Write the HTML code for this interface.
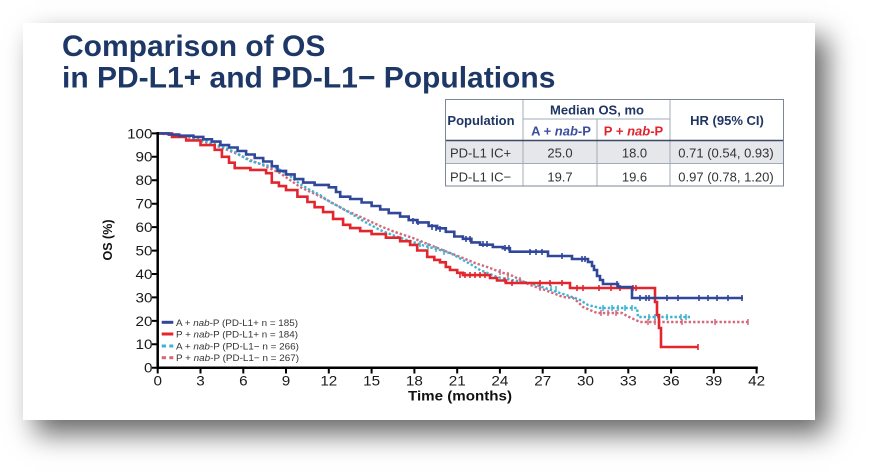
<!DOCTYPE html>
<html>
<head>
<meta charset="utf-8">
<style>
  html,body{margin:0;padding:0;background:#ffffff;}
  body{width:870px;height:475px;position:relative;overflow:hidden;font-family:"Liberation Sans",Arial,sans-serif;}
  .card{position:absolute;left:23px;top:23px;width:792px;height:397px;background:#fff;
        box-shadow:12px 14px 26px rgba(0,0,0,0.6);}
  svg{position:absolute;left:0;top:0;}
</style>
</head>
<body>
<div class="card"></div>
<svg width="870" height="475" viewBox="0 0 870 475" xmlns="http://www.w3.org/2000/svg" font-family="Liberation Sans, Arial, sans-serif">
  <!-- Title -->
  <text x="62" y="56" font-size="30" font-weight="bold" fill="#1d3867">Comparison of OS</text>
  <text x="62" y="87.5" font-size="30" font-weight="bold" fill="#1d3867">in PD-L1+ and PD-L1− Populations</text>

  <!-- Table -->
  <rect x="445" y="141" width="338" height="22" fill="#e6e7eb"/>
  <g stroke="#a3abb8" stroke-width="1" fill="none">
    <line x1="523" y1="99" x2="523" y2="186"/>
    <line x1="670" y1="99" x2="670" y2="186"/>
    <line x1="597" y1="119" x2="597" y2="186"/>
    <line x1="523" y1="119" x2="670" y2="119"/>
    <line x1="445" y1="163.5" x2="783" y2="163.5"/>
  </g>
  <line x1="445" y1="140.5" x2="783" y2="140.5" stroke="#3e4a63" stroke-width="1.6"/>
  <rect x="445.5" y="99.5" width="338" height="86.5" fill="none" stroke="#7c8696" stroke-width="1"/>
  <g font-size="13" font-weight="bold" fill="#1f3563" text-anchor="middle">
    <text x="481" y="125">Population</text>
    <text x="597" y="114.5">Median OS, mo</text>
    <text x="727" y="125">HR (95% CI)</text>
    <text x="561" y="135.5" fill="#3b4f9e">A + <tspan font-style="italic">nab</tspan>-P</text>
    <text x="633.5" y="135.5" fill="#e2232b">P + <tspan font-style="italic">nab</tspan>-P</text>
  </g>
  <g font-size="13" fill="#333" text-anchor="middle">
    <text x="450" y="157.5" text-anchor="start">PD-L1 IC+</text>
    <text x="560" y="157.5">25.0</text>
    <text x="634.5" y="157.5">18.0</text>
    <text x="726" y="157.5">0.71 (0.54, 0.93)</text>
    <text x="450" y="181.5" text-anchor="start">PD-L1 IC−</text>
    <text x="560" y="181.5">19.7</text>
    <text x="634.5" y="181.5">19.6</text>
    <text x="726" y="181.5">0.97 (0.78, 1.20)</text>
  </g>

  <!-- Curves: dotted first -->
  <polyline fill="none" stroke="#d4697c" stroke-width="2.4" stroke-dasharray="2.4 2" points="157.7,133.4 175,135 190,138 205,142 220,147 235,153 250,160 265,166 280,173 300,187 315,194 327,200 345,210 363,218 380,226 395,232 413,238 430,245 445,251 463,258 475,263 490,268 500,272 513,276 530,285 545,290 563,297 573,298 578,302 583,307 597,313 622,313 627,316 640,322 750,322"/>
  <polyline fill="none" stroke="#3db4d2" stroke-width="2.4" stroke-dasharray="2.4 2" points="157.7,133.4 175,134.5 190,137 205,141 220,146 235,152 250,161 265,165 277,168 290,176 300,184 310,190 320,195 330,202 340,207 350,213 365,222 380,230 395,236 413,242 425,246 440,250 452,254 463,260 472,265 480,270 490,274 497,277 512,280 530,283 545,288 563,294 575,298 580,300 588,305 600,308 637,308 638,317 690,317"/>
  <path fill="none" stroke="#3db4d2" stroke-width="1.5" d="M551 285v6M556 286v6M603 305v6M612 305v6M618 305v6M625 305v6M632 305v6M649 314v6M655 314v6M667 314v6M681 314v6M686 314v6M420 241v6M428 243v6M436 246v6M444 249v6"/>
  <path fill="none" stroke="#d4697c" stroke-width="1.5" d="M601 310v6M608 310v6M616 310v6M648 319v6M655 319v6M682 319v6M715 319v6M748 319v6M500 269v6M508 272v6M520 277v6M540 285v6"/>

  <!-- Red -->
  <path fill="none" stroke="#e3262e" stroke-width="2.6" d="M157.7,133.4 H172 V136.9 H186.2 V140.4 H200.5 V145.1 H214.7 V149.8 H221.9 V156.8 H229 V162.7 H234.7 V168.1 H250.4 V169.9 H266.1 V173.2 H271.8 V182.6 H278.9 V186.1 H286 V190.1 H297.4 V196.7 H307.4 V202 H314.6 V207.2 H323.1 V212.1 H333.1 V218.9 H343.1 V224.8 H350.2 V228.1 H360.2 V231.1 H371.6 V234.1 H385.9 V237.7 H400.1 V241.2 H410.1 V244.9 H417.2 V250.5 H427.2 V256.9 H434.3 V259.9 H440 V262.3 H445.8 V267 H450 V270 H457.2 V272.8 H462.9 V275.1 H490 V278 H497 V280.5 H506 V283 H570 V288 H655 V302 H657 V315 H659 V328 H661 V347 H698"/>
  <path fill="none" stroke="#e3262e" stroke-width="1.6" d="M460 272v6M465 272v6M470 272v6M475 272v6M480 272v6M485 272v6M505 277.5v6M512 280v6M540 280v6M550 280v6M562 280v6M577 285v6M583 285v6M599 285v6M611 285v6M620 285v6M633 285v6M636 285v6M698 344v6"/>

  <!-- Blue -->
  <path fill="none" stroke="#30479a" stroke-width="2.6" d="M157.7,133.4 H169.1 V134.6 H179.1 V135.7 H193.4 V136.9 H203.3 V139.3 H211.9 V141.6 H220.4 V145.1 H229 V147.5 H237.6 V151 H246.1 V154.5 H254.7 V158 H263.2 V161.5 H271.8 V166.2 H277.5 V170.9 H286 V174.4 H294.6 V179.1 H303.2 V182.6 H314.6 V184.9 H328.8 V187.3 H336 V192 H340.2 V196.7 H350.2 V199 H361.6 V202.5 H371.6 V206 H380.2 V209.5 H388.7 V213.1 H400.1 V216.6 H408.7 V220.1 H417.2 V222.4 H428.6 V225.9 H437.2 V228.3 H445.8 V231.8 H454.3 V236.5 H462.9 V238.8 H471.4 V242.4 H480 V244.7 H492.8 V247 H502.8 V248.2 H509.9 V251.7 H548 V256 H572 V259 H588 V262 H592 V266 H594 V270 H597 V276 H600 V280 H603 V284 H618 V287 H632 V298 H743"/>
  <path fill="none" stroke="#30479a" stroke-width="1.6" d="M413 218v6M418 219v6M432 224v6M436 225v6M440 226v6M466 236v6M470 236v6M483 241v6M487 241v6M505 245v6M509 245v6M530 249v6M536 249v6M542 249v6M562 253v6M582 256v6M585 256v6M617 281v6M640 295v6M646 295v6M649 295v6M667 295v6M678 295v6M699 295v6M708 295v6M717 295v6M728 295v6M742 295v6"/>

  <!-- Axes -->
  <g stroke="#000" stroke-width="2.5" fill="none">
    <line x1="157.7" y1="132" x2="157.7" y2="369"/>
    <line x1="156.5" y1="367.7" x2="757.8" y2="367.7"/>
  </g>
  <g stroke="#000" stroke-width="2" fill="none">
    <path d="M152 133.4H158M152 156.8H158M152 180.2H158M152 203.7H158M152 227.1H158M152 250.6H158M152 274H158M152 297.4H158M152 320.9H158M152 344.3H158M152 367.7H158"/>
    <path d="M157.7 367.7V373.5M200.5 367.7V373.5M243.3 367.7V373.5M286 367.7V373.5M328.8 367.7V373.5M371.6 367.7V373.5M414.4 367.7V373.5M457.2 367.7V373.5M499.9 367.7V373.5M542.7 367.7V373.5M585.5 367.7V373.5M628.3 367.7V373.5M671.1 367.7V373.5M713.8 367.7V373.5M756.6 367.7V373.5"/>
  </g>

  <!-- Y tick labels -->
  <g font-size="13.5" fill="#1a1a1a" text-anchor="end">
    <g transform="translate(152.5,138.3) scale(1.13,1)"><text>100</text></g>
    <g transform="translate(152.5,161.7) scale(1.13,1)"><text>90</text></g>
    <g transform="translate(152.5,185.1) scale(1.13,1)"><text>80</text></g>
    <g transform="translate(152.5,208.6) scale(1.13,1)"><text>70</text></g>
    <g transform="translate(152.5,232) scale(1.13,1)"><text>60</text></g>
    <g transform="translate(152.5,255.5) scale(1.13,1)"><text>50</text></g>
    <g transform="translate(152.5,278.9) scale(1.13,1)"><text>40</text></g>
    <g transform="translate(152.5,302.3) scale(1.13,1)"><text>30</text></g>
    <g transform="translate(152.5,325.8) scale(1.13,1)"><text>20</text></g>
    <g transform="translate(152.5,349.2) scale(1.13,1)"><text>10</text></g>
    <g transform="translate(152.5,372.6) scale(1.13,1)"><text>0</text></g>
  </g>
  <!-- X tick labels -->
  <g font-size="13.5" fill="#1a1a1a" text-anchor="middle">
    <g transform="translate(157.7,385.5) scale(1.13,1)"><text>0</text></g>
    <g transform="translate(200.5,385.5) scale(1.13,1)"><text>3</text></g>
    <g transform="translate(243.3,385.5) scale(1.13,1)"><text>6</text></g>
    <g transform="translate(286,385.5) scale(1.13,1)"><text>9</text></g>
    <g transform="translate(328.8,385.5) scale(1.13,1)"><text>12</text></g>
    <g transform="translate(371.6,385.5) scale(1.13,1)"><text>15</text></g>
    <g transform="translate(414.4,385.5) scale(1.13,1)"><text>18</text></g>
    <g transform="translate(457.2,385.5) scale(1.13,1)"><text>21</text></g>
    <g transform="translate(499.9,385.5) scale(1.13,1)"><text>24</text></g>
    <g transform="translate(542.7,385.5) scale(1.13,1)"><text>27</text></g>
    <g transform="translate(585.5,385.5) scale(1.13,1)"><text>30</text></g>
    <g transform="translate(628.3,385.5) scale(1.13,1)"><text>33</text></g>
    <g transform="translate(671.1,385.5) scale(1.13,1)"><text>36</text></g>
    <g transform="translate(713.8,385.5) scale(1.13,1)"><text>39</text></g>
    <g transform="translate(756.6,385.5) scale(1.13,1)"><text>42</text></g>
  </g>

  <!-- Axis titles -->
  <text x="408" y="400.5" font-size="13.5" font-weight="bold" fill="#111" textLength="104" lengthAdjust="spacingAndGlyphs">Time (months)</text>
  <text transform="translate(112,240) rotate(-90)" font-size="12.5" font-weight="bold" fill="#111" text-anchor="middle">OS (%)</text>

  <!-- Legend -->
  <rect x="161.7" y="320.8" width="11.6" height="3" fill="#30479a"/>
  <rect x="161.7" y="332.5" width="11.6" height="3" fill="#e3262e"/>
  <rect x="161.7" y="344.5" width="4.3" height="3" fill="#3db4d2"/>
  <rect x="169.3" y="344.5" width="4" height="3" fill="#3db4d2"/>
  <rect x="161.7" y="356.2" width="4.3" height="3" fill="#d4697c"/>
  <rect x="169.3" y="356.2" width="4" height="3" fill="#d4697c"/>
  <g font-size="9.5" fill="#333">
    <text x="176" y="325.8" textLength="122" lengthAdjust="spacingAndGlyphs">A + <tspan font-style="italic">nab</tspan>-P (PD-L1+ n = 185)</text>
    <text x="176" y="337.5" textLength="122" lengthAdjust="spacingAndGlyphs">P + <tspan font-style="italic">nab</tspan>-P (PD-L1+ n = 184)</text>
    <text x="176" y="349.5" textLength="123" lengthAdjust="spacingAndGlyphs">A + <tspan font-style="italic">nab</tspan>-P (PD-L1− n = 266)</text>
    <text x="176" y="361.2" textLength="123" lengthAdjust="spacingAndGlyphs">P + <tspan font-style="italic">nab</tspan>-P (PD-L1− n = 267)</text>
  </g>
</svg>
</body>
</html>
